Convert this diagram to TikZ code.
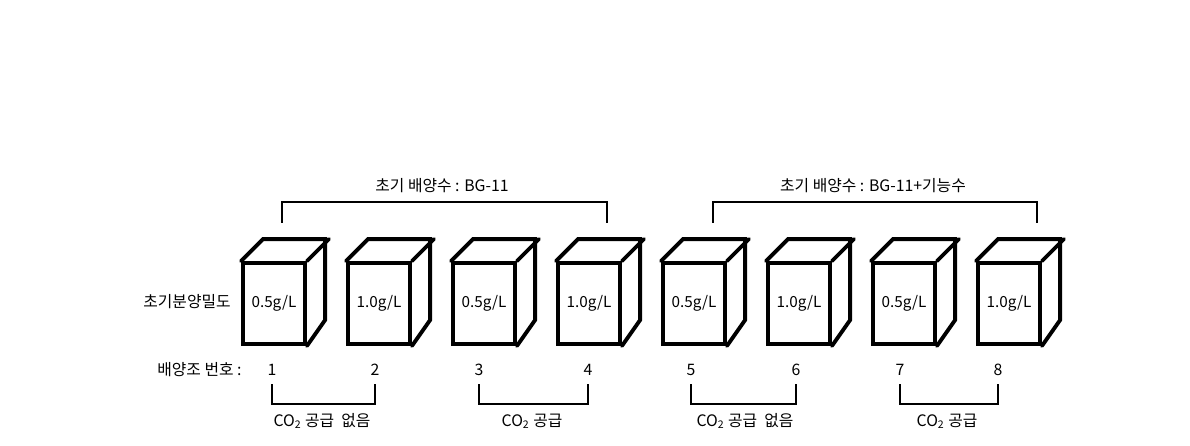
\documentclass[tikz,border=0pt]{standalone}
\usepackage{fontspec}
\setmainfont{Noto Sans CJK KR}
\usetikzlibrary{calc}
\usetikzlibrary{positioning}

\begin{document}
\begin{tikzpicture}[x=0.02cm, y=-0.02cm, face/.style={rectangle, draw, line width=2.2pt, inner sep=0pt, minimum width=1.24cm, minimum height=1.62cm, font=\fontsize{8.7}{10}\selectfont}]
    \tikzset{cube/.style={line width=2.2pt, line cap=round, line join=miter}}
    \tikzset{brk/.style={line width=1.4pt, line cap=rect}, txt/.style={inner sep=0pt, font=\fontsize{9}{11}\selectfont}}
    \useasboundingbox (0,0) rectangle (1190,446);
    % culture tanks
    \foreach \d [count=\i] in {0.5,1.0,0.5,1.0,0.5,1.0,0.5,1.0} {
    \node[face] (c\i) at ({274+105*(\i-1)},303.5) {\d g/L};
    \draw[cube] (c\i.north west) -- ++(22,-22) -- ++(62,0) -- ++(0,81) -- (c\i.south east);
    \draw[cube] (c\i.north east) -- ++(22,-22);
    }
    % row titles
    \node[txt, anchor=east] (dens) at (231,302) {초기분양밀도};
    \node[txt, anchor=west] (num) at (157,370) {배양조 번호 :};
    % tank numbers
    \foreach \x [count=\i] in {272,375,479,588,691,796,900,998} {
    \node[txt] (n\i) at (\x,370) {\i};
    }
    % medium brackets
    \draw[brk] (282,222) |- (607,202) -- (607,222);
    \draw[brk] (713,222) |- (1037,202) -- (1037,222);
    \node[txt] (m1) at (442,186) {초기 배양수 : BG-11};
    \node[txt] (m2) at (873,186) {초기 배양수 : BG-11+기능수};
    % CO2 brackets
    \draw[brk] (n1 |- 0,385) -- (n1 |- 0,404) -| (n2 |- 0,385);
    \draw[brk] (n3 |- 0,385) -- (n3 |- 0,404) -| (n4 |- 0,385);
    \draw[brk] (n5 |- 0,385) -- (n5 |- 0,404) -| (n6 |- 0,385);
    \draw[brk] (n7 |- 0,385) -- (n7 |- 0,404) -| (n8 |- 0,385);
    \node[txt] (s1) at (322,421) {CO\textsubscript{2} 공급\ \ 없음};
    \node[txt] (s2) at (532,421) {CO\textsubscript{2} 공급};
    \node[txt] (s3) at (745,421) {CO\textsubscript{2} 공급\ \ 없음};
    \node[txt] (s4) at (947,421) {CO\textsubscript{2} 공급};
\end{tikzpicture}
\end{document}
